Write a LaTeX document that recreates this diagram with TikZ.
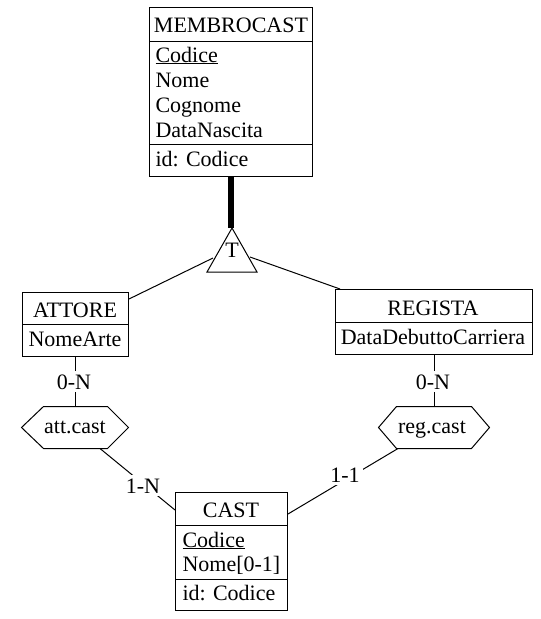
\documentclass[tikz,border=0pt]{standalone}
\usepackage{fontspec}
\setmainfont{Liberation Serif}
\begin{document}
\begin{tikzpicture}[x=1pt,y=-1pt,line width=1pt,
  box/.style={draw,inner sep=0pt,anchor=north west},
  txt/.style={anchor=base,inner sep=0pt,font=\fontsize{22}{25}\selectfont},
  ltxt/.style={txt,anchor=base west},
  lbl/.style={txt,fill=white,inner sep=3pt},
  hexa/.style={inner sep=0pt}]
\useasboundingbox (0,0) rectangle (541,619);

% MEMBROCAST
\node[box,minimum width=163pt,minimum height=169pt] (mc) at (149,7) {};
\draw (mc.west |- 0,41) -- (mc.east |- 0,41);
\draw (mc.west |- 0,144) -- (mc.east |- 0,144);
\node[txt] (mcT) at (231,32) {MEMBROCAST};
\node[ltxt] (mc1) at (155,62) {\underline{Codice}};
\node[ltxt] (mc2) at (155,87) {Nome};
\node[ltxt] (mc3) at (155,112) {Cognome};
\node[ltxt] (mc4) at (155,137) {DataNascita};
\node[ltxt] (mc5) at (155,166) {id: Codice};

% ATTORE
\node[box,minimum width=106pt,minimum height=64pt] (attore) at (22,292) {};
\draw (attore.west |- 0,324) -- (attore.east |- 0,324);
\node[txt] (attT) at (75,317) {ATTORE};
\node[txt] (att1) at (75,346) {NomeArte};

% REGISTA
\node[box,minimum width=197pt,minimum height=65pt] (regista) at (335,289) {};
\draw (regista.west |- 0,322) -- (regista.east |- 0,322);
\node[txt] (regT) at (433,315) {REGISTA};
\node[txt] (reg1) at (433,344) {DataDebuttoCarriera};

% CAST
\node[box,minimum width=112pt,minimum height=118pt] (cast) at (175,492) {};
\draw (cast.west |- 0,525) -- (cast.east |- 0,525);
\draw (cast.west |- 0,579) -- (cast.east |- 0,579);
\node[txt] (castT) at (231,517) {CAST};
\node[ltxt] (cast1) at (182,547) {\underline{Codice}};
\node[ltxt] (cast2) at (182,571) {Nome[0-1]};
\node[ltxt] (cast3) at (182,600) {id: Codice};

% hexagons (relationships)
\node[hexa,minimum width=106pt,minimum height=41pt] (att) at (75,427.5) {};
\draw ([xshift=22pt]att.north west) -- ([xshift=-21pt]att.north east) -- (att.east)
  -- ([xshift=-21pt]att.south east) -- ([xshift=22pt]att.south west) -- (att.west) -- cycle;
\node[txt] (attL) at (75,433) {att.cast};

\node[hexa,minimum width=110pt,minimum height=41pt] (reg) at (434,427.5) {};
\draw ([xshift=18pt]reg.north west) -- ([xshift=-18pt]reg.north east) -- (reg.east)
  -- ([xshift=-18pt]reg.south east) -- ([xshift=18pt]reg.south west) -- (reg.west) -- cycle;
\node[txt] (regL) at (432,433) {reg.cast};

% ISA triangle
\coordinate (tA) at (232,228);
\coordinate (tL) at (207,272);
\coordinate (tR) at (257,272);
\draw (tA) -- (tL) -- (tR) -- cycle;
\node[txt] (tT) at (232,257) {T};
\draw[line width=6pt] (mc.south) -- (mc.south |- tA);
\coordinate (tLs) at (213,258);
\coordinate (tRs) at (250,257);
\draw (tLs) -- ([yshift=-7pt]attore.north east);
\draw (tRs) -- ([xshift=5pt]regista.north west);

% connectors
\draw (attore.south) -- (attore.south |- att.north);
\node[lbl] (c1) at (74,389) {0-N};
\draw (regista.south) -- (regista.south |- reg.north);
\node[lbl] (c2) at (433,389) {0-N};
\draw ([xshift=25pt]att.south) -- ([yshift=-18pt]cast.north west);
\node[lbl] (c3) at (143,493) {1-N};
\draw ([xshift=-36pt]reg.south) -- ([yshift=-22pt]cast.north east);
\node[lbl] (c4) at (345,482) {1-1};
\end{tikzpicture}
\end{document}
